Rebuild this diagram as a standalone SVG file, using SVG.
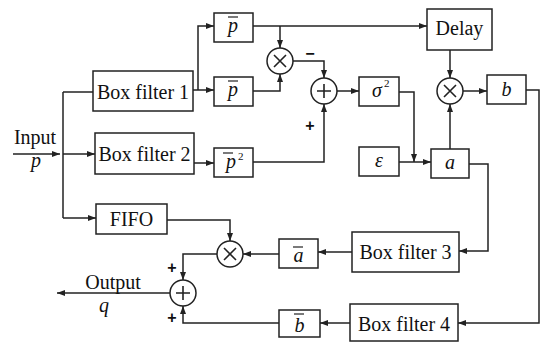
<svg xmlns="http://www.w3.org/2000/svg" width="541" height="342" viewBox="0 0 541 342">
<style>
.b{fill:#fff;stroke:#222;stroke-width:1.5}
.l{fill:none;stroke:#222;stroke-width:1.5}
.c{fill:#fff;stroke:#222;stroke-width:1.5}
.s{stroke:#222;stroke-width:1.6;fill:none}
.bar{stroke:#222;stroke-width:1.2}
text{font-family:"Liberation Serif","Times New Roman",serif;font-size:20px;fill:#111}
.t{text-anchor:middle}
.m{font-style:italic;text-anchor:middle}
.sup{font-size:11px;font-style:normal}
.sg{font-family:"Liberation Sans",Arial,sans-serif;font-size:16px;font-weight:bold;text-anchor:middle}
</style>
<defs>
<marker id="ar" markerWidth="8" markerHeight="6" refX="8" refY="3" orient="auto" markerUnits="userSpaceOnUse">
<path d="M0,0 L8,3 L0,6 z" fill="#222"/>
</marker>
</defs>
<g id="connectors" class="l">
<path d="M13,154 H60" marker-end="url(#ar)"/>
<path d="M63,92 V218"/>
<path d="M63,92 H93"/>
<path d="M63,154 H95" marker-end="url(#ar)"/>
<path d="M63,218 H96" marker-end="url(#ar)"/>
<path d="M193,90 H214" marker-end="url(#ar)"/>
<path d="M198,90 V26 H214" marker-end="url(#ar)"/>
<path d="M194,163 H214" marker-end="url(#ar)"/>
<path d="M253,26 H427" marker-end="url(#ar)"/>
<path d="M280,26 V48" marker-end="url(#ar)"/>
<path d="M253,91 H280 V74" marker-end="url(#ar)"/>
<path d="M293,61 H324 V78" marker-end="url(#ar)"/>
<path d="M253,162 H324 V104" marker-end="url(#ar)"/>
<path d="M337,91 H359" marker-end="url(#ar)"/>
<path d="M399,92 H414 V162" marker-end="url(#ar)"/>
<path d="M399,162 H431" marker-end="url(#ar)"/>
<path d="M450,50 V78" marker-end="url(#ar)"/>
<path d="M450,149 V104" marker-end="url(#ar)"/>
<path d="M463,91 H487" marker-end="url(#ar)"/>
<path d="M526,90 H539 V323 H458" marker-end="url(#ar)"/>
<path d="M469,164 H488 V251 H459" marker-end="url(#ar)"/>
<path d="M352,252 H318" marker-end="url(#ar)"/>
<path d="M279,254 H243" marker-end="url(#ar)"/>
<path d="M167,220 H230 V241" marker-end="url(#ar)"/>
<path d="M217,254 H183 V280" marker-end="url(#ar)"/>
<path d="M350,323 H320" marker-end="url(#ar)"/>
<path d="M279,323 H183 V306" marker-end="url(#ar)"/>
<path d="M170,293 H57" marker-end="url(#ar)"/>
</g>
<g id="input"><text x="35" y="144" class="t">Input</text><text x="36" y="167" class="m">p</text></g>
<g id="output"><text x="113" y="289" class="t">Output</text><text x="104" y="312" class="m">q</text></g>
<g id="boxfilter1"><rect class="b" x="93" y="71" width="100" height="40"/><text x="143" y="99" class="t">Box filter 1</text></g>
<g id="boxfilter2"><rect class="b" x="95" y="133" width="99" height="41"/><text x="144.5" y="161" class="t">Box filter 2</text></g>
<g id="fifo"><rect class="b" x="96" y="204" width="71" height="30"/><text x="131.5" y="226" class="t">FIFO</text></g>
<g id="pbar1"><rect class="b" x="214" y="13" width="39" height="29"/><text x="233" y="32" class="m">p</text><line class="bar" x1="228" y1="17" x2="238" y2="17"/></g>
<g id="pbar2"><rect class="b" x="214" y="77" width="39" height="29"/><text x="233" y="96" class="m">p</text><line class="bar" x1="228" y1="81" x2="238" y2="81"/></g>
<g id="pbarsq"><rect class="b" x="214" y="148" width="39" height="29"/><text x="231" y="168" class="m">p</text><line class="bar" x1="223" y1="153" x2="233" y2="153"/><text x="238" y="160" class="sup">2</text></g>
<g id="mul1"><circle class="c" cx="280" cy="61" r="13"/><path class="s" d="M274,55 L286,67 M286,55 L274,67"/></g>
<g id="sum1"><circle class="c" cx="324" cy="91" r="13"/><path class="s" d="M317,91 H331 M324,84 V98"/></g>
<g id="sigma2"><rect class="b" x="359" y="77" width="40" height="29"/><text x="377" y="97" class="m">σ</text><text x="384" y="87" class="sup">2</text></g>
<g id="eps"><rect class="b" x="359" y="147" width="40" height="29"/><text x="379" y="167" class="m">ε</text></g>
<g id="a"><rect class="b" x="431" y="149" width="38" height="29"/><text x="450" y="169" class="m">a</text></g>
<g id="delay"><rect class="b" x="427" y="9" width="65" height="41"/><text x="459.5" y="35" class="t">Delay</text></g>
<g id="mul2"><circle class="c" cx="450" cy="91" r="13"/><path class="s" d="M444,85 L456,97 M456,85 L444,97"/></g>
<g id="b"><rect class="b" x="487" y="75" width="39" height="29"/><text x="506.5" y="96" class="m">b</text></g>
<g id="boxfilter3"><rect class="b" x="352" y="232" width="107" height="40"/><text x="405.5" y="259" class="t">Box filter 3</text></g>
<g id="abar"><rect class="b" x="279" y="239" width="39" height="29"/><text x="298.5" y="262" class="m">a</text><line class="bar" x1="293" y1="247" x2="303" y2="247"/></g>
<g id="mul3"><circle class="c" cx="230" cy="254" r="13"/><path class="s" d="M224,248 L236,260 M236,248 L224,260"/></g>
<g id="sum2"><circle class="c" cx="183" cy="293" r="13"/><path class="s" d="M176,293 H190 M183,286 V300"/></g>
<g id="boxfilter4"><rect class="b" x="350" y="304" width="108" height="37"/><text x="404" y="331" class="t">Box filter 4</text></g>
<g id="bbar"><rect class="b" x="279" y="310" width="41" height="27"/><text x="299.5" y="332" class="m">b</text><line class="bar" x1="294" y1="314" x2="304" y2="314"/></g>
<g id="signs">
<text x="310" y="59" class="sg">−</text>
<text x="310" y="131" class="sg">+</text>
<text x="172" y="273" class="sg">+</text>
<text x="172" y="323" class="sg">+</text>
</g>
</svg>
